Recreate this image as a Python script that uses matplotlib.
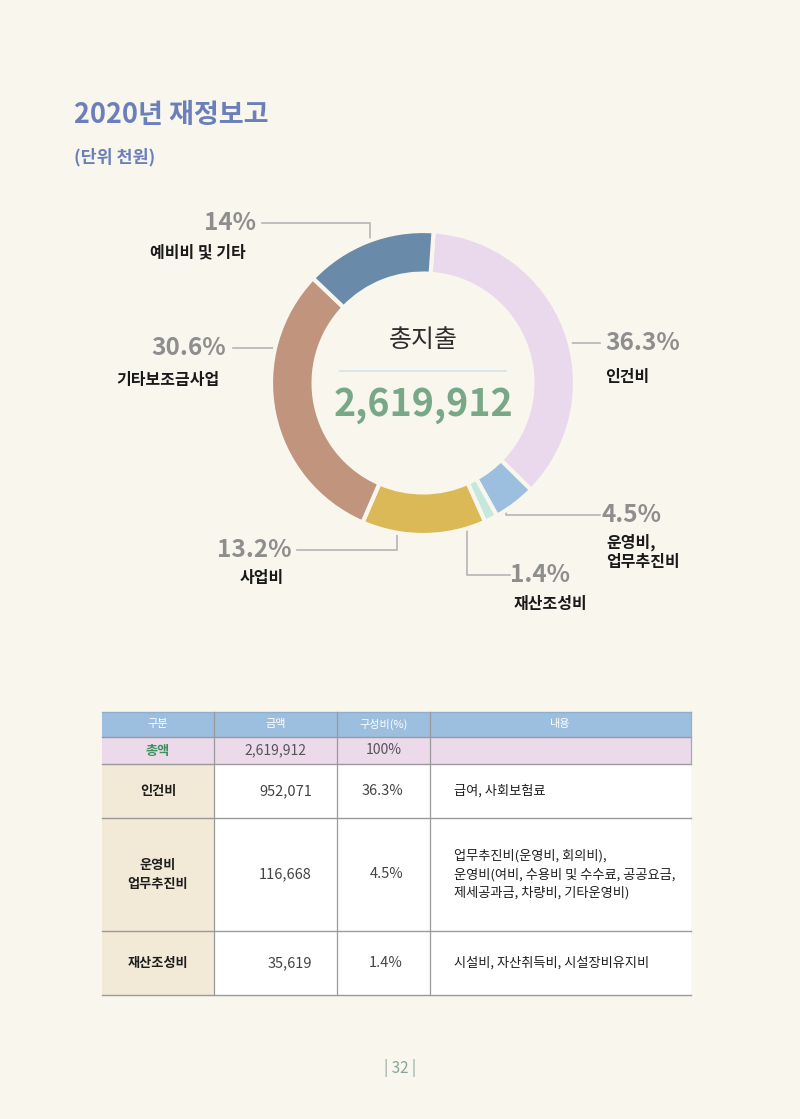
import matplotlib
matplotlib.use("Agg")
import matplotlib.pyplot as plt
from matplotlib.patches import Rectangle

plt.rcParams['font.family'] = ['Noto Sans CJK KR', 'DejaVu Sans']

# data
categories = ['인건비', '운영비, 업무추진비', '재산조성비', '사업비', '기타보조금사업', '예비비 및 기타']
shares = [36.3, 4.5, 1.4, 13.2, 30.6, 14.0]
colors = ['#ead9ec', '#9dbfdf', '#c6e8dc', '#dcb957', '#c0947d', '#6a8aa9']
total = '2,619,912'

table_header = ['구분', '금액', '구성비(%)', '내용']
table_names = ['인건비', '운영비\n업무추진비', '재산조성비']
table_amounts = ['952,071', '116,668', '35,619']
table_pcts = ['36.3%', '4.5%', '1.4%']
table_desc = ['급여, 사회보험료',
              '업무추진비(운영비, 회의비),\n운영비(여비, 수용비 및 수수료, 공공요금,\n제세공과금, 차량비, 기타운영비)',
              '시설비, 자산취득비, 시설장비유지비']

BG = '#f9f6ee'
W, H = 800, 1119
fig = plt.figure(figsize=(W / 100, H / 100), dpi=100, facecolor=BG)

# page axes in pixel coordinates
page = fig.add_axes([0, 0, 1, 1])
page.set_xlim(0, W)
page.set_ylim(H, 0)
page.axis('off')

page.text(74, 115, '2020년 재정보고', fontsize=19.5, color='#6b80ba', va='center', ha='left',
          fontweight='bold')
page.text(74, 157, '(단위 천원)', fontsize=12.5, color='#6b80ba', va='center', ha='left',
          fontweight='bold')

# donut
cx, cy, r = 423, 383, 152
pad = 1.05
ax = fig.add_axes([(cx - r * pad) / W, (H - cy - r * pad) / H, 2 * r * pad / W, 2 * r * pad / H])
ax.pie(shares, colors=colors, startangle=86, counterclock=False, radius=1,
       wedgeprops=dict(width=0.28, edgecolor=BG, linewidth=3))
ax.set_xlim(-pad, pad)
ax.set_ylim(-pad, pad)
ax.axis('off')

page.text(cx, 340, '총지출', fontsize=18, color='#2e2e2e', ha='center', va='center')
page.plot([340, 506], [371, 371], color='#cfe3ea', lw=1.2)
page.text(cx, 405, total, fontsize=27, color='#78a887', ha='center', va='center', fontweight='bold')

# labels with leader lines (layout)
lc = '#b5b5b5'
labels = [
    # pct text pos, name pos, name align, leader line points
    ((230, 223), (198, 252), 'center', [(262, 223), (370, 223), (370, 262)]),
    ((189, 348), (168, 380), 'center', [(233, 348), (293, 348)]),
    ((643, 343), (627, 377), 'center', [(548, 343), (600, 343)]),
    ((632, 515), (606, 552), 'left', [(506, 492), (506, 515), (600, 515)]),
    ((540, 575), (550, 604), 'center', [(467, 520), (467, 575), (510, 575)]),
    ((254, 550), (262, 578), 'center', [(297, 550), (397, 550), (397, 512)]),
]
names_disp = ['인건비', '운영비,\n업무추진비', '재산조성비', '사업비', '기타보조금사업', '예비비 및 기타']
order = [5, 4, 0, 1, 2, 3]
for (pp, np_, nha, pts), i in zip(labels, order):
    page.text(pp[0], pp[1], f'{shares[i]:g}%', fontsize=17.5, color='#8e8e8e', fontweight='bold',
              ha='center', va='center')
    page.text(np_[0], np_[1], names_disp[i], fontsize=11.5, color='#1a1a1a', fontweight='bold',
              ha=nha, va='center', linespacing=1.2, multialignment='left')
    xs, ys = zip(*pts)
    page.plot(xs, ys, color=lc, lw=1.2)

# table
cols = [102, 214, 337, 430, 691]
rows = [712, 737, 764, 818, 931, 995]
head_c = '#9dbfdf'
total_c = '#ecdaea'
name_c = '#f2e9d7'
line_c = '#9a9a9a'

page.add_patch(Rectangle((cols[0], rows[0]), cols[-1] - cols[0], rows[1] - rows[0], fc=head_c, ec='none'))
page.add_patch(Rectangle((cols[0], rows[1]), cols[-1] - cols[0], rows[2] - rows[1], fc=total_c, ec='none'))
page.add_patch(Rectangle((cols[0], rows[2]), cols[1] - cols[0], rows[-1] - rows[2], fc=name_c, ec='none'))
page.add_patch(Rectangle((cols[1], rows[2]), cols[-1] - cols[1], rows[-1] - rows[2], fc='white', ec='none'))

for y in rows[1:]:
    page.plot([cols[0], cols[-1]], [y, y], color=line_c, lw=1)
page.plot([cols[0], cols[-1]], [rows[0], rows[0]], color='#8fb0cc', lw=1)
for x in cols[1:-1]:
    page.plot([x, x], [rows[0], rows[-1]], color=line_c, lw=0.9)
page.plot([cols[-1], cols[-1]], [rows[0], rows[2]], color='#8fb0cc', lw=0.9)

for j, h in enumerate(table_header):
    page.text((cols[j] + cols[j + 1]) / 2, (rows[0] + rows[1]) / 2, h, fontsize=8, color='white',
              ha='center', va='center')

ty = (rows[1] + rows[2]) / 2
page.text((cols[0] + cols[1]) / 2, ty, '총액', fontsize=9.5, color='#3f9160', fontweight='bold',
          ha='center', va='center')
page.text((cols[1] + cols[2]) / 2, ty, total, fontsize=10, color='#555555', ha='center', va='center')
page.text((cols[2] + cols[3]) / 2, ty, '100%', fontsize=10, color='#555555', ha='center', va='center')

for k in range(len(table_names)):
    y = (rows[k + 2] + rows[k + 3]) / 2
    page.text((cols[0] + cols[1]) / 2, y, table_names[k], fontsize=9.5, color='#1e1e1e',
              fontweight='bold', ha='center', va='center', linespacing=1.5)
    page.text(312, y, table_amounts[k], fontsize=10.5, color='#444444', ha='right', va='center')
    page.text(403, y, table_pcts[k], fontsize=10.5, color='#444444', ha='right', va='center')
    page.text(454, y, table_desc[k], fontsize=9.5, color='#1e1e1e', ha='left', va='center',
              linespacing=1.5)

page.text(400, 1068, '| 32 |', fontsize=11, color='#8aa39a', ha='center', va='center')

fig.savefig('out.png', dpi=100, facecolor=BG)
